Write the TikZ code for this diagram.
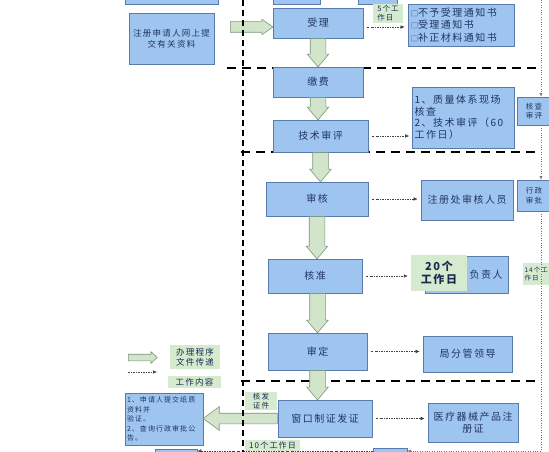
\documentclass[tikz,border=0pt]{standalone}
\usepackage{fontspec}
\setmainfont{Noto Sans CJK SC}[LetterSpace=15]
\usetikzlibrary{calc,arrows.meta,shapes.arrows}
\definecolor{boxblue}{RGB}{158,197,240}
\definecolor{boxline}{RGB}{88,122,172}
\definecolor{boxtext}{RGB}{32,52,98}
\definecolor{taggreen}{RGB}{214,234,208}
\definecolor{flowgreen}{RGB}{210,229,202}
\definecolor{flowline}{RGB}{122,150,122}

\begin{document}
\begin{tikzpicture}[x=1pt,y=-1pt,
    box/.style={draw=boxline,fill=boxblue,line width=.7pt,text=boxtext,inner sep=2pt,align=center,font=\fontsize{10}{11.5}\selectfont},
    tag/.style={fill=taggreen,text=boxtext!80!black,inner sep=1pt,align=left,font=\fontsize{7.5}{9}\selectfont},
    flowarrow/.style={single arrow,draw=flowline,fill=flowgreen,line width=.6pt,inner xsep=0pt,inner ysep=7.5pt,
        minimum width=0pt,single arrow head extend=3pt,single arrow tip angle=80},
    flow/.style={to path={let \p1=(\tikztostart),\p2=(\tikztotarget),
        \n1={veclen(\x2-\x1,\y2-\y1)},\n2={atan2(\y2-\y1,\x2-\x1)} in
        (\p1) node[flowarrow,minimum height=\n1,rotate=\n2,anchor=tail,#1] {} (\p2)}},
    flow/.default={},
    doc/.style={draw=black!75,line width=.5pt,dash pattern=on 2pt off 1.2pt on .5pt off 1.2pt,
        shorten <=4pt,shorten >=3pt,-{Latex[length=4pt,width=3.5pt]}},
    rdot/.style={draw=black!55,line width=.5pt,dash pattern=on .8pt off 1.6pt,-{Latex[length=3.5pt,width=3pt]}},
    sep/.style={draw=black,line width=2pt,dash pattern=on 9pt off 6pt}]
\useasboundingbox (0,0) rectangle (549,452);
\clip (0,0) rectangle (549,452);

% stage separators
\draw[sep] (227,68) -- (538,68);
\draw[sep] (241,152) -- (538,152);
\draw[sep] (241,381) -- (535,381);

% boxes cut off at the top
\node[box,minimum width=93pt,minimum height=20pt] (prevA) at (171.5,-6) {};
\node[box,minimum width=47pt,minimum height=20pt] (prevB) at (296.5,-6) {};
\node[box,minimum width=39pt,minimum height=20pt] (prevC) at (377.5,-6) {};

% main procedure
\node[box,minimum width=85pt,minimum height=51pt,font=\fontsize{8.5}{11}\selectfont] (sq) at (171.5,38.5) {注册申请人网上提\\交有关资料};
\node[box,minimum width=90pt,minimum height=30pt] (shouli) at (318,23) {受理};
\node[box,minimum width=90pt,minimum height=30pt] (jiaofei) at (318,82) {缴费};
\node[box,minimum width=95pt,minimum height=32pt] (jishu) at (320.5,136) {技术审评};
\node[box,minimum width=102pt,minimum height=34pt] (shenhe) at (317,199) {审核};
\node[box,minimum width=94pt,minimum height=34pt] (hezhun) at (315,276) {核准};
\node[box,minimum width=99pt,minimum height=37pt] (shending) at (317.5,351.5) {审定};
\node[box,minimum width=94pt,minimum height=37pt] (chuangkou) at (325,418.5) {窗口制证发证};

% work content
\node[box,minimum width=106pt,minimum height=42pt,text width=100pt,align=left,font=\fontsize{10}{12.5}\selectfont] (tongzhi) at (461,25)
    {{\fontsize{7}{7}\selectfont □}不予受理通知书\\{\fontsize{7}{7}\selectfont □}受理通知书\\{\fontsize{7}{7}\selectfont □}补正材料通知书};
\node[box,minimum width=101pt,minimum height=61pt,text width=98pt,align=left] (zhiliang) at (463.5,117.5)
    {1、质量体系现场\\核查\\2、技术审评（60\\工作日）};
\node[box,minimum width=92pt,minimum height=40pt] (zhuce) at (467,200) {注册处审核人员};
\node[box,minimum width=83pt,minimum height=37pt,text width=72pt,align=right] (fuze) at (466.5,274.5) {负责人};
\node[box,minimum width=89pt,minimum height=36pt] (jufen) at (467.5,354) {局分管领导};
\node[box,minimum width=90pt,minimum height=39pt] (yiliao) at (473,422.5) {医疗器械产品注\\册证};
\node[box,minimum width=34pt,minimum height=28pt,font=\fontsize{7.5}{9.5}\selectfont] (hecha) at (534,111) {核查\\审评};
\node[box,minimum width=34pt,minimum height=31pt,font=\fontsize{7.5}{9.5}\selectfont] (xingzheng) at (534,195.5) {行政\\审批};
\node[box,minimum width=76pt,minimum height=52pt,text width=74pt,align=left,font=\fontsize{7}{9.5}\selectfont] (shenqing) at (164,419)
    {1、申请人提交纸质\\资料并\\验证。\\2、查询行政审批公\\告。};
\node[box,minimum width=42pt,minimum height=16pt] (prevbot) at (176,457) {};
\node[box,minimum width=34pt,minimum height=16pt] (fa) at (390,456) {};

% time limits
\node[tag,minimum width=30pt,minimum height=19pt] (wu) at (388,13.5) {5个工\\作日};
\node[tag,minimum width=56pt,minimum height=36pt,align=center,font=\bfseries\fontsize{11}{13}\selectfont] (ershi) at (439,273) {20个\\工作日};
\node[tag,anchor=north west,minimum width=26pt,minimum height=22pt,font=\fontsize{6.5}{8.5}\selectfont] (shisi) at (523,263) {14个工\\作日};
\node[tag,minimum width=32pt,minimum height=18pt] (hefa) at (261,401) {核发\\证件};
\node[tag,minimum width=55pt,minimum height=11pt,font=\fontsize{8}{9}\selectfont] (shige) at (272.5,445) {10个工作日};

% legend
\node[tag,minimum width=50pt,minimum height=24pt,font=\fontsize{8.5}{10}\selectfont] (banli) at (195,357) {办理程序\\文件传递};
\node[tag,minimum width=53pt,minimum height=12pt,font=\fontsize{8.5}{10}\selectfont] (gongzuo) at (194.5,382) {工作内容};
\coordinate (lgA) at (128,357.5);
\coordinate (lgB) at (157,357.5);
\coordinate (lgC) at (128,372);
\coordinate (lgD) at (157,372);
\path (lgA) to[flow={inner ysep=3pt,single arrow head extend=2.5pt,single arrow tip angle=85}] (lgB);
\draw[doc,shorten <=0pt,shorten >=0pt] (lgC) -- (lgD);

% procedure arrows
\coordinate (inflow) at (230,27);
\path (inflow) to[flow={inner ysep=5pt,single arrow head extend=2.5pt,single arrow tip angle=70}] (inflow -| shouli.west);
\path (shouli.south) to[flow] (jiaofei.north);
\path (jiaofei.south) to[flow] (jiaofei.south |- jishu.north);
\path (jishu.south) to[flow] (jishu.south |- shenhe.north);
\path (shenhe.south) to[flow] (shenhe.south |- hezhun.north);
\path (shending.north |- hezhun.south) to[flow] (shending.north);
\path (shending.south) to[flow] (shending.south |- chuangkou.north);
\path (chuangkou.west) to[flow={inner ysep=5pt,single arrow head extend=6.5pt,single arrow tip angle=72}] (chuangkou.west -| shenqing.east);

% document transfer
\draw[doc] ([yshift=-4pt]shouli.east) -- ([yshift=-4pt]shouli.east -| tongzhi.west);
\draw[doc] (jishu.east) -- (jishu.east -| zhiliang.west);
\draw[doc] (shenhe.east) -- (shenhe.east -| zhuce.west);
\draw[doc] (hezhun.east) -- (hezhun.east -| ershi.west);
\draw[doc] (shending.east) -- (shending.east -| jufen.west);
\draw[doc] (chuangkou.east) -- (chuangkou.east -| yiliao.west);

\coordinate (rtop) at (541,0);
\coordinate (rbot) at (541,451);
\draw[rdot] (rtop) -- (rtop |- hecha.north);
\draw[rdot] (rtop |- hecha.south) -- (rtop |- xingzheng.north);
\draw[rdot] (rtop |- xingzheng.south) -- (rbot) -- (rbot -| fa.east);
\draw[doc,shorten <=0pt,shorten >=0pt] (rbot -| fa.west) -- (rbot -| prevbot.east);

% department boundary
\draw[sep,dash pattern=on 6pt off 4pt] (243,0) -- (243,452);
\end{tikzpicture}
\end{document}
